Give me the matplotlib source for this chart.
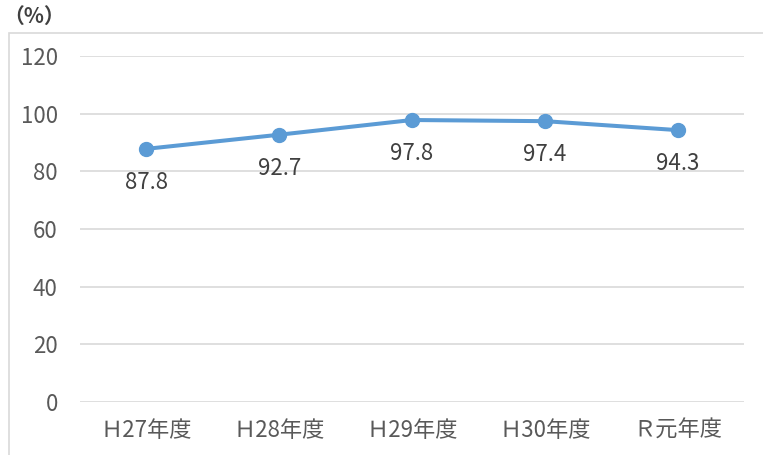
import matplotlib
matplotlib.use("Agg")
import matplotlib.pyplot as plt
from matplotlib.patches import Rectangle

plt.rcParams['font.family'] = ['Noto Sans CJK JP', 'DejaVu Sans']

categories = ["Ｈ27年度", "Ｈ28年度", "Ｈ29年度", "Ｈ30年度", "Ｒ元年度"]
values = [87.8, 92.7, 97.8, 97.4, 94.3]
yticks = [0, 20, 40, 60, 80, 100, 120]

W, H = 763, 455
fig = plt.figure(figsize=(W / 100, H / 100), dpi=100)
fig.patch.set_facecolor("white")

# outer chart frame (partly cut off at right/bottom)
fig.patches.append(Rectangle((9 / W, -0.1), 1.2, (1 - 33 / H) + 0.1,
                             transform=fig.transFigure, fill=False,
                             edgecolor="#D9D9D9", linewidth=1.2))

ax = fig.add_axes([80 / W, 1 - 402 / H, (744 - 80) / W, (402 - 56) / H])
x = list(range(len(categories)))
ax.plot(x, values, color="#5B9BD5", linewidth=2.9, marker="o",
        markersize=10, zorder=3, solid_capstyle="round")
for xi, v in zip(x, values):
    ax.annotate(f"{v}", (xi, v), xytext=(0, -24), textcoords="offset points",
                ha="center", va="center", fontsize=16, color="#404040")

ax.set_xlim(-0.5, len(categories) - 0.5)
ax.set_ylim(0, 120)
ax.set_yticks(yticks)
ax.set_xticks(x)
ax.set_xticklabels(categories)
ax.grid(axis="y", color="#D9D9D9", linewidth=1.2)
ax.set_axisbelow(True)
for s in ax.spines.values():
    s.set_visible(False)
ax.tick_params(axis="both", length=0, colors="#595959", labelsize=16)
ax.tick_params(axis="y", pad=16)
ax.tick_params(axis="x", pad=12)

fig.text(3 / W, 1 - 16 / H, "（%）", fontsize=15, color="#404040",
         ha="left", va="center", fontweight="bold")

fig.savefig("out.png", dpi=100)
